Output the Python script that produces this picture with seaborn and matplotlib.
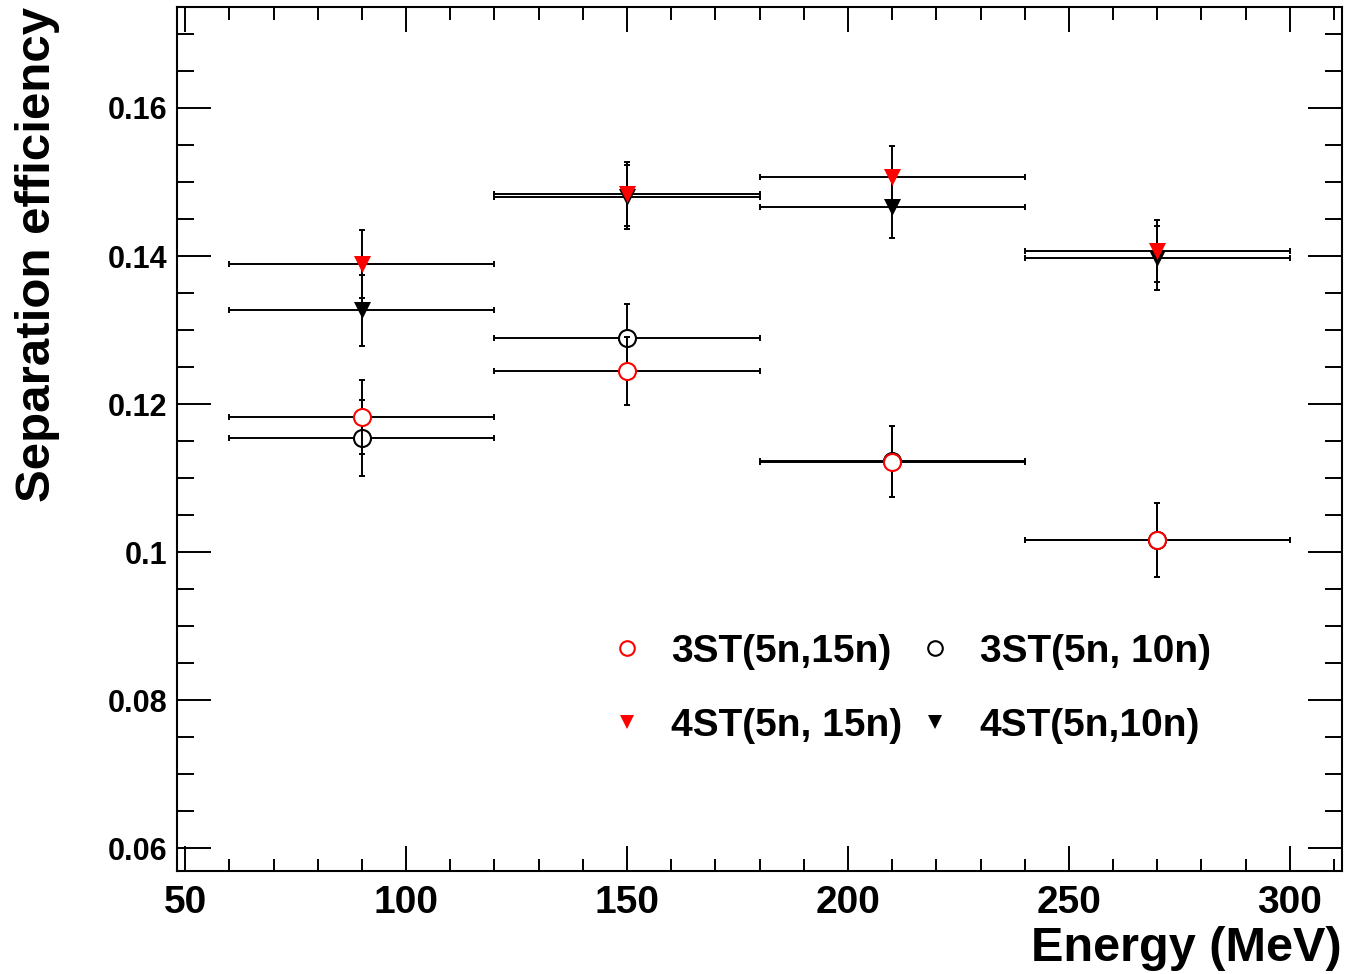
import matplotlib
matplotlib.use("Agg")
import matplotlib.pyplot as plt
import seaborn as sns
import pandas as pd
from matplotlib.lines import Line2D
from matplotlib.ticker import MultipleLocator, FixedLocator, FixedFormatter

# ---- data ----
energy = [90, 150, 210, 270]
energy_err = [30, 30, 30, 30]

eff_3st_15 = [0.1182, 0.1245, 0.1122, 0.1016]
err_3st_15 = [0.0050, 0.0046, 0.0048, 0.0050]
eff_3st_10 = [0.1154, 0.1289, 0.1123, 0.1017]
err_3st_10 = [0.0051, 0.0046, 0.0048, 0.0050]
eff_4st_15 = [0.1389, 0.1484, 0.1507, 0.1407]
err_4st_15 = [0.0046, 0.0043, 0.0042, 0.0042]
eff_4st_10 = [0.1327, 0.1480, 0.1466, 0.1397]
err_4st_10 = [0.0048, 0.0043, 0.0041, 0.0043]

labels = ["3ST(5n,15n)", "3ST(5n, 10n)", "4ST(5n, 15n)", "4ST(5n,10n)"]
ytick_values = [0.06, 0.08, 0.10, 0.12, 0.14, 0.16]
ytick_labels = ["0.06", "0.08", "0.1", "0.12", "0.14", "0.16"]
xtick_values = [50, 100, 150, 200, 250, 300]
xtick_labels = ["50", "100", "150", "200", "250", "300"]

sns.set_theme(style="ticks")
plt.rcParams['font.family'] = ['Liberation Sans', 'DejaVu Sans']
plt.rcParams['font.weight'] = 'bold'
plt.rcParams['axes.labelweight'] = 'bold'
plt.rcParams['text.color'] = 'black'
plt.rcParams['axes.labelcolor'] = 'black'
plt.rcParams['xtick.color'] = 'black'
plt.rcParams['ytick.color'] = 'black'
plt.rcParams['axes.edgecolor'] = 'black'

fig = plt.figure(figsize=(13.46, 9.74), dpi=100)
ax = fig.add_axes([0.1313, 0.106, 0.997 - 0.1313, 0.9925 - 0.106])

# draw order: black 3ST10, red 3ST15, black 4ST10, red 4ST15
series = [
    (eff_3st_10, err_3st_10, 'o', 'white', 'black', labels[1]),
    (eff_3st_15, err_3st_15, 'o', 'white', 'red', labels[0]),
    (eff_4st_10, err_4st_10, 'v', 'black', 'black', labels[3]),
    (eff_4st_15, err_4st_15, 'v', 'red', 'red', labels[2]),
]
z = 2
for vals, errs, mk, fc, ec, lab in series:
    ax.errorbar(energy, vals, xerr=energy_err, yerr=errs, fmt='none',
                ecolor='black', elinewidth=1.4, capsize=2.2, capthick=1.4,
                zorder=z)
    df = pd.DataFrame({"E": energy, "eff": vals})
    if mk == 'o':
        sns.scatterplot(data=df, x="E", y="eff", ax=ax, marker='o', s=150,
                        color=fc, edgecolor=ec, linewidth=1.5, legend=False,
                        zorder=z + 1)
    else:
        sns.scatterplot(data=df, x="E", y="eff", ax=ax, marker='v', s=150,
                        color=fc, edgecolor=ec, linewidth=0, legend=False,
                        zorder=z + 1)
    z += 2

ax.set_xlim(48.1, 311.8)
ax.set_ylim(0.05697, 0.1736)

ax.xaxis.set_major_locator(FixedLocator(xtick_values))
ax.xaxis.set_major_formatter(FixedFormatter(xtick_labels))
ax.xaxis.set_minor_locator(MultipleLocator(10))
ax.yaxis.set_major_locator(FixedLocator(ytick_values))
ax.yaxis.set_major_formatter(FixedFormatter(ytick_labels))
ax.yaxis.set_minor_locator(MultipleLocator(0.005))

ax.tick_params(axis='x', which='major', direction='in', length=18, width=1.4,
               top=True, bottom=True, labelsize=28, pad=10, colors='black')
ax.tick_params(axis='x', which='minor', direction='in', length=9, width=1.4,
               top=True, bottom=True)
ax.tick_params(axis='y', which='major', direction='in', length=24.5, width=1.4,
               left=True, right=True, labelsize=22, pad=7, colors='black')
ax.tick_params(axis='y', which='minor', direction='in', length=12, width=1.4,
               left=True, right=True)
for lab in ax.get_xticklabels() + ax.get_yticklabels():
    lab.set_fontweight('bold')

for sp in ax.spines.values():
    sp.set_visible(True)
    sp.set_linewidth(1.5)
    sp.set_color('black')

ax.set_xlabel("Energy (MeV)", fontsize=35, fontweight='bold', loc='right')
ax.xaxis.set_label_coords(1.0, -0.064)
ax.set_ylabel("Separation efficiency", fontsize=35.5, fontweight='bold', loc='top')
ax.yaxis.set_label_coords(-0.100, 1.0)

handles = [
    Line2D([], [], ls='none', marker='o', mfc='white', mec='red', ms=10.5, mew=1.5),
    Line2D([], [], ls='none', marker='v', mfc='red', mec='red', ms=10.5, mew=0),
    Line2D([], [], ls='none', marker='o', mfc='white', mec='black', ms=10.5, mew=1.5),
    Line2D([], [], ls='none', marker='v', mfc='black', mec='black', ms=10.5, mew=0),
]
leg_labels = [labels[0], labels[2], labels[1], labels[3]]
leg = ax.legend(handles, leg_labels, ncol=2, loc='upper left',
                bbox_to_anchor=(0.353, 0.297), frameon=False, borderpad=0,
                handlelength=1.0, handletextpad=0.64, columnspacing=0.35,
                labelspacing=0.98, prop={'family': ['Liberation Sans', 'DejaVu Sans'],
                                         'weight': 'bold', 'size': 28})

fig.savefig("out.png", dpi=100)
